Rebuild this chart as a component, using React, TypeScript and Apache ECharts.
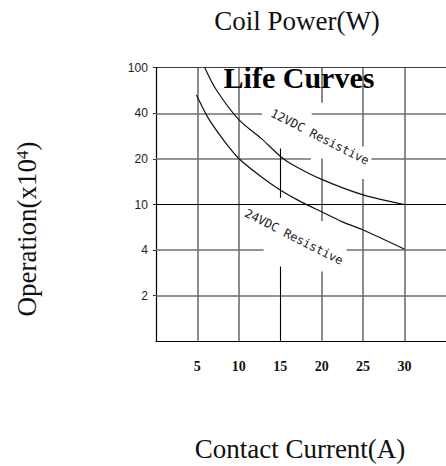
import React, { useEffect, useRef } from "react";
import * as echarts from "echarts";

// X axis (Contact Current, A)
const xTicks = [5, 10, 15, 20, 25, 30];
// Y axis: evenly spaced label positions 1..6
const yTickPositions = [1, 2, 3, 4, 5, 6];
const yTickLabels = ["2", "4", "10", "20", "40", "100"];

// Curves: [current (A), axis position]
const curve12V: [number, number][] = [
  [5.9, 6], [7.3, 5.51], [10, 4.86], [12.7, 4.45], [15, 4.06], [16.6, 3.86],
  [20, 3.55], [25, 3.21], [30, 3.0],
];
const curve24V: [number, number][] = [
  [4.9, 5.4], [6.3, 4.9], [8.3, 4.38], [10, 4.01], [12.7, 3.61], [15, 3.32],
  [17.3, 3.08], [20, 2.84], [22.5, 2.62], [25, 2.44], [30, 2.02],
];

// Grid segments (with gaps around labels)
// horizontal: [y, x1, x2]
const hGray: [number, number, number][] = [
  [5, 0, 12.8], [5, 18.8, 35],
  [4, 0, 18.7], [4, 26.0, 35],
  [2, 0, 13.0], [2, 23.0, 35],
  [1, 0, 35],
];
const hBlack: [number, number, number][] = [
  [3, 0, 35],
  [6, 0, 35],
];
// vertical: [x, y1, y2]
const vGray: [number, number, number][] = [
  [5, 0, 6], [10, 0, 6],
  [20, 0, 1.53], [20, 2.64, 4.01], [20, 5.23, 6],
  [25, 0, 3.56], [25, 4.27, 6],
  [30, 0, 6],
];
const vBlack: [number, number, number][] = [
  [15, 0, 1.64], [15, 3.15, 4.23],
];

const SERIF = "'Liberation Serif', 'Times New Roman', serif";

export default function App() {
  const ref = useRef<HTMLDivElement>(null);
  useEffect(() => {
    if (!ref.current) return;
    const chart = echarts.init(ref.current, undefined, { renderer: "svg" });
    const hSeg = (arr: [number, number, number][]) =>
      arr.map(([y, x1, x2]) => ({ coords: [[x1, y], [x2, y]] }));
    const vSeg = (arr: [number, number, number][]) =>
      arr.map(([x, y1, y2]) => ({ coords: [[x, y1], [x, y2]] }));
    chart.setOption({
      animation: false,
      backgroundColor: "#ffffff",
      grid: { left: 155.9, top: 67.7, width: 292.6, height: 273.6, containLabel: false },
      xAxis: {
        type: "value",
        min: 0,
        max: 35,
        splitLine: { show: false },
        axisLine: { show: true, lineStyle: { color: "#000", width: 1.2 } },
        axisTick: { show: false },
        axisLabel: {
          customValues: xTicks,
          margin: 18,
          fontFamily: SERIF,
          fontWeight: "bold",
          fontSize: 14,
          color: "#111",
        },
      },
      yAxis: {
        type: "value",
        min: 0,
        max: 6,
        interval: 1,
        splitLine: { show: false },
        axisLine: { show: true, onZero: false, lineStyle: { color: "#000", width: 1.2 } },
        axisTick: { show: true, customValues: yTickPositions, length: 3, lineStyle: { color: "#333" } },
        axisLabel: {
          customValues: yTickPositions,
          formatter: (v: number) => yTickLabels[yTickPositions.indexOf(v)] ?? "",
          margin: 8,
          fontFamily: "'Liberation Sans', Arial, sans-serif",
          fontSize: 12,
          color: "#222",
        },
      },
      series: [
        {
          type: "lines",
          coordinateSystem: "cartesian2d",
          silent: true,
          z: 1,
          lineStyle: { color: "#6f6f6f", width: 1.6, opacity: 1 },
          data: [...hSeg(hGray), ...vSeg(vGray)],
        },
        {
          type: "lines",
          coordinateSystem: "cartesian2d",
          silent: true,
          z: 2,
          lineStyle: { color: "#000", width: 1.1, opacity: 1 },
          data: [...hSeg(hBlack), ...vSeg(vBlack)],
        },
        {
          name: "12VDC Resistive",
          type: "line",
          data: curve12V,
          smooth: 0.3,
          showSymbol: false,
          z: 5,
          lineStyle: { color: "#111", width: 1.2 },
        },
        {
          name: "24VDC Resistive",
          type: "line",
          data: curve24V,
          smooth: 0.3,
          showSymbol: false,
          z: 5,
          lineStyle: { color: "#111", width: 1.2 },
        },
      ],
      graphic: [
        {
          type: "text",
          x: 297,
          y: 21,
          style: {
            text: "Coil Power(W)",
            font: `27px ${SERIF}`,
            fill: "#111",
            align: "center",
            verticalAlign: "middle",
          },
        },
        {
          type: "text",
          x: 300,
          y: 449,
          style: {
            text: "Contact Current(A)",
            font: `27px ${SERIF}`,
            fill: "#111",
            align: "center",
            verticalAlign: "middle",
          },
        },
        {
          type: "text",
          x: 27,
          y: 229,
          rotation: Math.PI / 2,
          style: {
            text: "Operation(x10{sup|4})",
            font: `27px ${SERIF}`,
            fill: "#111",
            align: "center",
            verticalAlign: "middle",
            rich: {
              sup: { fontSize: 17, fontFamily: SERIF, verticalAlign: "top", fill: "#111" },
            },
          },
        },
        {
          type: "text",
          x: 299,
          y: 77,
          z: 10,
          style: {
            text: "Life Curves",
            font: `bold 30px ${SERIF}`,
            fill: "#000",
            align: "center",
            verticalAlign: "middle",
          },
        },
        {
          type: "text",
          x: 320,
          y: 137,
          rotation: -0.47,
          z: 10,
          style: {
            text: "12VDC Resistive",
            font: "12px 'DejaVu Sans Mono', monospace",
            fill: "#222",
            align: "center",
            verticalAlign: "middle",
          },
        },
        {
          type: "text",
          x: 294,
          y: 237,
          rotation: -0.47,
          z: 10,
          style: {
            text: "24VDC Resistive",
            font: "12px 'DejaVu Sans Mono', monospace",
            fill: "#222",
            align: "center",
            verticalAlign: "middle",
          },
        },
      ],
    });
    return () => chart.dispose();
  }, []);
  return (
    <div
      ref={ref}
      style={{ position: "absolute", left: 0, top: 0, width: 446, height: 466 }}
    />
  );
}
